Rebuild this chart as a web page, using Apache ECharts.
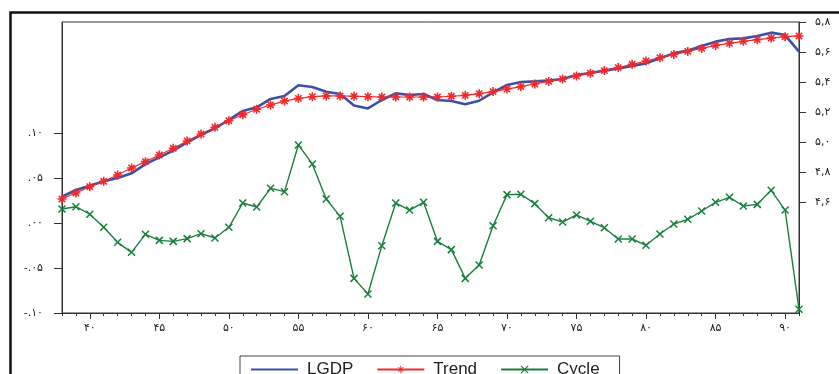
<!DOCTYPE html>
<html>
<head>
<meta charset="utf-8">
<title>LGDP, Trend, Cycle</title>
<script src="https://cdn.jsdelivr.net/npm/echarts@6/dist/echarts.min.js"></script>
<style>
  html, body { margin: 0; padding: 0; background: #ffffff; }
  #chart { width: 839px; height: 374px; }
</style>
</head>
<body>
<div id="chart"></div>
<script>
// Years (Solar Hijri, last two digits)
const years = [38, 39, 40, 41, 42, 43, 44, 45, 46, 47, 48, 49, 50, 51, 52, 53, 54, 55, 56, 57,
  58, 59, 60, 61, 62, 63, 64, 65, 66, 67, 68, 69, 70, 71, 72, 73, 74, 75, 76, 77,
  78, 79, 80, 81, 82, 83, 84, 85, 86, 87, 88, 89, 90, 91];

// Log of GDP (right axis)
const lgdp = [4.635, 4.680, 4.709, 4.738, 4.760, 4.791, 4.853, 4.898, 4.942, 4.998,
  5.047, 5.091, 5.147, 5.207, 5.231, 5.287, 5.307, 5.378, 5.367, 5.335,
  5.320, 5.244, 5.224, 5.280, 5.324, 5.313, 5.320, 5.280, 5.273, 5.251,
  5.275, 5.331, 5.380, 5.400, 5.404, 5.409, 5.420, 5.447, 5.460, 5.476,
  5.491, 5.507, 5.524, 5.558, 5.591, 5.609, 5.640, 5.669, 5.687, 5.691,
  5.707, 5.729, 5.713, 5.602];

// Hodrick-Prescott trend (right axis)
const trend = [4.620, 4.660, 4.702, 4.738, 4.780, 4.827, 4.869, 4.913, 4.958, 5.007,
  5.053, 5.098, 5.142, 5.182, 5.218, 5.247, 5.273, 5.291, 5.302, 5.307,
  5.307, 5.305, 5.302, 5.300, 5.300, 5.300, 5.300, 5.300, 5.305, 5.311,
  5.322, 5.336, 5.353, 5.369, 5.387, 5.404, 5.420, 5.440, 5.458, 5.476,
  5.496, 5.518, 5.540, 5.562, 5.584, 5.604, 5.624, 5.644, 5.658, 5.671,
  5.682, 5.693, 5.702, 5.707];

// Cyclical component (left axis)
const cycle = [0.0156, 0.0181, 0.0097, -0.0048, -0.0215, -0.0326, -0.0126, -0.0193, -0.0204, -0.0174,
  -0.0119, -0.0167, -0.0048, 0.0222, 0.0178, 0.0385, 0.0348, 0.0867, 0.0656, 0.0267,
  0.0074, -0.0615, -0.0789, -0.0252, 0.0222, 0.0144, 0.0230, -0.0204, -0.0296, -0.0615,
  -0.0467, -0.0030, 0.0315, 0.0319, 0.0215, 0.0059, 0.0011, 0.0089, 0.0019, -0.0052,
  -0.0178, -0.0178, -0.0248, -0.0122, -0.0011, 0.0041, 0.0133, 0.0230, 0.0285, 0.0189,
  0.0207, 0.0363, 0.0144, -0.0959];

// Tick positions and their labels
const xMajorTicks = [40, 45, 50, 55, 60, 65, 70, 75, 80, 85, 90];
const xTickLabels = ['۴۰', '۴۵', '۵۰', '۵۵', '۶۰', '۶۵', '۷۰', '۷۵', '۸۰', '۸۵', '۹۰'];
const leftTicks = [-0.10, -0.05, 0.00, 0.05, 0.10];
const leftTickLabels = ['-.۱۰', '-.۰۵', '.۰۰', '.۰۵', '.۱۰'];
const rightTicks = [4.6, 4.8, 5.0, 5.2, 5.4, 5.6, 5.8];
const rightTickLabels = ['۴,۶', '۴,۸', '۵,۰', '۵,۲', '۵,۴', '۵,۶', '۵,۸'];

const pairs = (vals) => years.map((y, i) => [y, vals[i]]);
const lookup = (ticks, labels) => (v) => {
  const i = ticks.findIndex(t => Math.abs(t - v) < 1e-6);
  return i >= 0 ? labels[i] : '';
};

const AXIS = '#333333';
const LABEL_FONT = { fontFamily: 'DejaVu Sans', fontSize: 11, color: '#222222' };

const starPath = 'path://M5,0L5,10M0,5L10,5M1.5,1.5L8.5,8.5M8.5,1.5L1.5,8.5';
const crossPath = 'path://M0,0L10,10M10,0L0,10';

const chart = echarts.init(document.getElementById('chart'), null, { renderer: 'canvas' });

chart.setOption({
  animation: false,
  backgroundColor: '#ffffff',
  graphic: [{
    type: 'rect',
    silent: true,
    shape: { x: 10.5, y: 12.5, width: 900, height: 500 },
    style: { fill: 'none', stroke: '#111111', lineWidth: 2.5 }
  }],
  grid: {
    left: 62, top: 22, width: 737, height: 291,
    show: true, borderColor: AXIS, borderWidth: 1, backgroundColor: 'transparent'
  },
  legend: {
    data: [
      { name: 'LGDP', itemStyle: { opacity: 0 } },
      { name: 'Trend', itemStyle: { borderWidth: 1 } },
      { name: 'Cycle', itemStyle: { borderWidth: 1.2 } }
    ],
    left: 240, top: 356,
    padding: [5, 20, 8, 10],
    itemWidth: 47, itemHeight: 9, itemGap: 23,
    borderColor: '#444444', borderWidth: 1,
    textStyle: {
      fontFamily: 'Liberation Sans, Arial, sans-serif', fontSize: 17, color: '#222222',
      padding: [0, 0, 0, 4]
    }
  },
  xAxis: [{
    type: 'value', min: 38, max: 91, position: 'bottom',
    axisLine: { show: true, onZero: false, lineStyle: { color: AXIS, width: 1 } },
    axisTick: { show: true, customValues: xMajorTicks, length: 6, lineStyle: { color: AXIS } },
    axisLabel: Object.assign({ customValues: xMajorTicks, margin: 10,
      formatter: lookup(xMajorTicks, xTickLabels) }, LABEL_FONT),
    splitLine: { show: false }
  }, {
    type: 'value', min: 38, max: 91, position: 'bottom',
    axisLine: { show: false, onZero: false },
    axisTick: { show: true, customValues: years, length: 3, lineStyle: { color: AXIS } },
    axisLabel: { show: false },
    splitLine: { show: false }
  }],
  yAxis: [{
    type: 'value', min: -0.1, max: 0.2233, position: 'left',
    axisLine: { show: true, onZero: false, lineStyle: { color: AXIS, width: 1 } },
    axisTick: { show: true, customValues: leftTicks, length: 8, lineStyle: { color: AXIS } },
    axisLabel: Object.assign({ customValues: leftTicks, margin: 19,
      formatter: lookup(leftTicks, leftTickLabels) }, LABEL_FONT),
    splitLine: { show: false }
  }, {
    type: 'value', min: 3.86, max: 5.8, position: 'right',
    axisLine: { show: true, onZero: false, lineStyle: { color: AXIS, width: 1 } },
    axisTick: { show: true, customValues: rightTicks, length: 7, lineStyle: { color: AXIS } },
    axisLabel: Object.assign({ customValues: rightTicks, margin: 16,
      formatter: lookup(rightTicks, rightTickLabels) }, LABEL_FONT),
    splitLine: { show: false }
  }],
  series: [{
    name: 'LGDP', type: 'line', xAxisIndex: 0, yAxisIndex: 1,
    data: pairs(lgdp),
    symbol: 'circle', showSymbol: false,
    lineStyle: { color: '#3A52A6', width: 2.6 },
    itemStyle: { color: '#3A52A6' },
    z: 2
  }, {
    name: 'Trend', type: 'line', xAxisIndex: 0, yAxisIndex: 1,
    data: pairs(trend),
    symbol: starPath, symbolSize: 9, showAllSymbol: true,
    lineStyle: { color: '#EE2A2E', width: 1.2 },
    itemStyle: { color: '#EE2A2E', borderColor: '#EE2A2E', borderWidth: 1.6 },
    z: 3
  }, {
    name: 'Cycle', type: 'line', xAxisIndex: 0, yAxisIndex: 0,
    data: pairs(cycle),
    symbol: crossPath, symbolSize: 7, showAllSymbol: true,
    lineStyle: { color: '#1A7F3C', width: 1.4 },
    itemStyle: { color: '#1A7F3C', borderColor: '#1A7F3C', borderWidth: 1.5 },
    z: 3
  }]
});
</script>
</body>
</html>
